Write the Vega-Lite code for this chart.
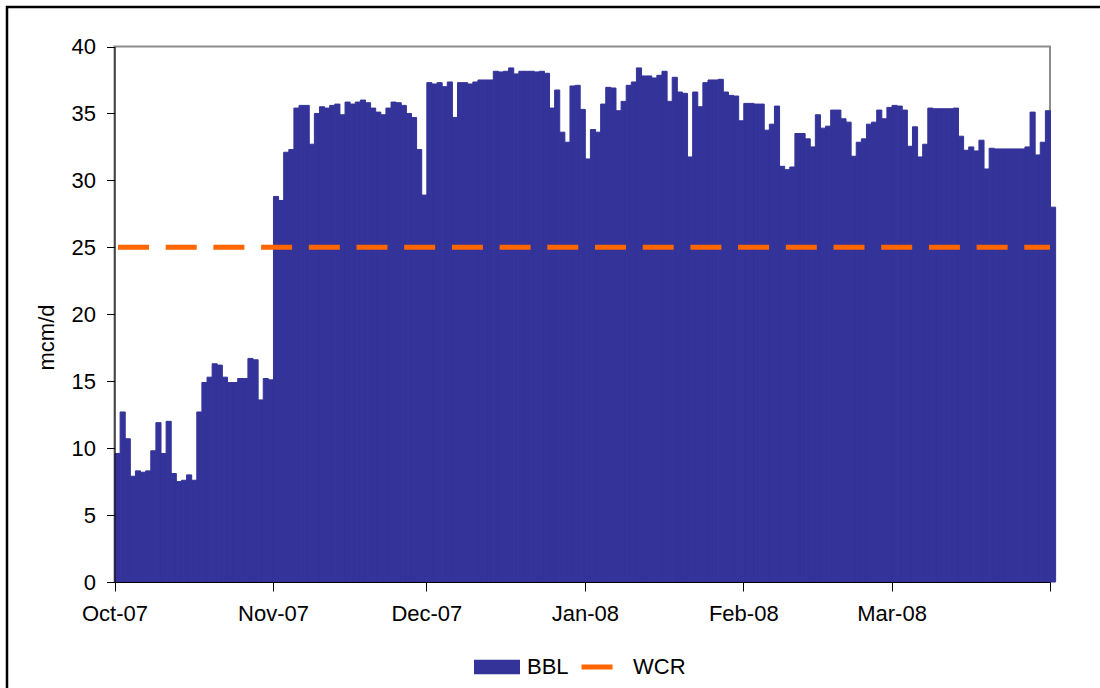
{
  "$schema": "https://vega.github.io/schema/vega-lite/v6.json",
  "width": 1098,
  "height": 686,
  "autosize": {"type": "none"},
  "padding": {"left": 7, "top": 7, "right": -5, "bottom": -5},
  "background": "white",
  "config": {"view": {"stroke": "#000000", "strokeWidth": 2.5}, "font": "Liberation Sans"},
  "data": {"values": [
    {"d":"2007-10-01","v":9.6},{"d":"2007-10-02","v":12.7},{"d":"2007-10-03","v":10.7},{"d":"2007-10-04","v":7.9},{"d":"2007-10-05","v":8.3},{"d":"2007-10-06","v":8.2},{"d":"2007-10-07","v":8.3},{"d":"2007-10-08","v":9.8},{"d":"2007-10-09","v":11.9},{"d":"2007-10-10","v":9.6},
    {"d":"2007-10-11","v":12.0},{"d":"2007-10-12","v":8.1},{"d":"2007-10-13","v":7.5},{"d":"2007-10-14","v":7.6},{"d":"2007-10-15","v":8.0},{"d":"2007-10-16","v":7.6},{"d":"2007-10-17","v":12.7},{"d":"2007-10-18","v":14.9},{"d":"2007-10-19","v":15.3},{"d":"2007-10-20","v":16.3},
    {"d":"2007-10-21","v":16.2},{"d":"2007-10-22","v":15.3},{"d":"2007-10-23","v":14.9},{"d":"2007-10-24","v":14.9},{"d":"2007-10-25","v":15.2},{"d":"2007-10-26","v":15.2},{"d":"2007-10-27","v":16.7},{"d":"2007-10-28","v":16.6},{"d":"2007-10-29","v":13.6},{"d":"2007-10-30","v":15.2},{"d":"2007-10-31","v":15.1},
    {"d":"2007-11-01","v":28.8},{"d":"2007-11-02","v":28.5},{"d":"2007-11-03","v":32.1},{"d":"2007-11-04","v":32.3},{"d":"2007-11-05","v":35.4},{"d":"2007-11-06","v":35.6},{"d":"2007-11-07","v":35.6},{"d":"2007-11-08","v":32.7},{"d":"2007-11-09","v":35.0},{"d":"2007-11-10","v":35.5},
    {"d":"2007-11-11","v":35.4},{"d":"2007-11-12","v":35.6},{"d":"2007-11-13","v":35.7},{"d":"2007-11-14","v":34.9},{"d":"2007-11-15","v":35.85},{"d":"2007-11-16","v":35.7},{"d":"2007-11-17","v":35.85},{"d":"2007-11-18","v":36.0},{"d":"2007-11-19","v":35.8},{"d":"2007-11-20","v":35.4},
    {"d":"2007-11-21","v":35.1},{"d":"2007-11-22","v":34.9},{"d":"2007-11-23","v":35.4},{"d":"2007-11-24","v":35.85},{"d":"2007-11-25","v":35.8},{"d":"2007-11-26","v":35.6},{"d":"2007-11-27","v":35.0},{"d":"2007-11-28","v":34.7},{"d":"2007-11-29","v":32.3},{"d":"2007-11-30","v":28.9},
    {"d":"2007-12-01","v":37.3},{"d":"2007-12-02","v":37.2},{"d":"2007-12-03","v":37.3},{"d":"2007-12-04","v":37.0},{"d":"2007-12-05","v":37.35},{"d":"2007-12-06","v":34.7},{"d":"2007-12-07","v":37.3},{"d":"2007-12-08","v":37.3},{"d":"2007-12-09","v":37.2},{"d":"2007-12-10","v":37.35},
    {"d":"2007-12-11","v":37.5},{"d":"2007-12-12","v":37.5},{"d":"2007-12-13","v":37.5},{"d":"2007-12-14","v":38.15},{"d":"2007-12-15","v":38.1},{"d":"2007-12-16","v":38.15},{"d":"2007-12-17","v":38.4},{"d":"2007-12-18","v":37.95},{"d":"2007-12-19","v":38.15},{"d":"2007-12-20","v":38.15},
    {"d":"2007-12-21","v":38.15},{"d":"2007-12-22","v":38.1},{"d":"2007-12-23","v":38.15},{"d":"2007-12-24","v":38.0},{"d":"2007-12-25","v":35.4},{"d":"2007-12-26","v":36.75},{"d":"2007-12-27","v":33.6},{"d":"2007-12-28","v":32.85},{"d":"2007-12-29","v":37.05},{"d":"2007-12-30","v":37.1},{"d":"2007-12-31","v":35.3},
    {"d":"2008-01-01","v":31.6},{"d":"2008-01-02","v":33.8},{"d":"2008-01-03","v":33.6},{"d":"2008-01-04","v":35.7},{"d":"2008-01-05","v":36.95},{"d":"2008-01-06","v":36.9},{"d":"2008-01-07","v":35.2},{"d":"2008-01-08","v":35.9},{"d":"2008-01-09","v":37.1},{"d":"2008-01-10","v":37.35},
    {"d":"2008-01-11","v":38.4},{"d":"2008-01-12","v":37.8},{"d":"2008-01-13","v":37.8},{"d":"2008-01-14","v":37.65},{"d":"2008-01-15","v":37.85},{"d":"2008-01-16","v":38.15},{"d":"2008-01-17","v":35.9},{"d":"2008-01-18","v":37.7},{"d":"2008-01-19","v":36.6},{"d":"2008-01-20","v":36.5},
    {"d":"2008-01-21","v":31.75},{"d":"2008-01-22","v":36.6},{"d":"2008-01-23","v":35.5},{"d":"2008-01-24","v":37.3},{"d":"2008-01-25","v":37.5},{"d":"2008-01-26","v":37.5},{"d":"2008-01-27","v":37.55},{"d":"2008-01-28","v":36.6},{"d":"2008-01-29","v":36.35},{"d":"2008-01-30","v":36.3},{"d":"2008-01-31","v":34.45},
    {"d":"2008-02-01","v":35.75},{"d":"2008-02-02","v":35.75},{"d":"2008-02-03","v":35.7},{"d":"2008-02-04","v":35.7},{"d":"2008-02-05","v":33.75},{"d":"2008-02-06","v":34.2},{"d":"2008-02-07","v":35.55},{"d":"2008-02-08","v":31.05},{"d":"2008-02-09","v":30.8},{"d":"2008-02-10","v":31.0},
    {"d":"2008-02-11","v":33.5},{"d":"2008-02-12","v":33.5},{"d":"2008-02-13","v":33.1},{"d":"2008-02-14","v":32.5},{"d":"2008-02-15","v":34.9},{"d":"2008-02-16","v":33.9},{"d":"2008-02-17","v":34.05},{"d":"2008-02-18","v":35.25},{"d":"2008-02-19","v":35.25},{"d":"2008-02-20","v":34.6},
    {"d":"2008-02-21","v":34.35},{"d":"2008-02-22","v":31.8},{"d":"2008-02-23","v":32.85},{"d":"2008-02-24","v":33.1},{"d":"2008-02-25","v":34.2},{"d":"2008-02-26","v":34.35},{"d":"2008-02-27","v":35.25},{"d":"2008-02-28","v":34.6},{"d":"2008-02-29","v":35.45},
    {"d":"2008-03-01","v":35.6},{"d":"2008-03-02","v":35.55},{"d":"2008-03-03","v":35.25},{"d":"2008-03-04","v":32.55},{"d":"2008-03-05","v":34.0},{"d":"2008-03-06","v":31.75},{"d":"2008-03-07","v":32.7},{"d":"2008-03-08","v":35.4},{"d":"2008-03-09","v":35.35},{"d":"2008-03-10","v":35.35},
    {"d":"2008-03-11","v":35.35},{"d":"2008-03-12","v":35.35},{"d":"2008-03-13","v":35.4},{"d":"2008-03-14","v":33.3},{"d":"2008-03-15","v":32.25},{"d":"2008-03-16","v":32.5},{"d":"2008-03-17","v":32.2},{"d":"2008-03-18","v":33.0},{"d":"2008-03-19","v":30.85},{"d":"2008-03-20","v":32.4},
    {"d":"2008-03-21","v":32.35},{"d":"2008-03-22","v":32.35},{"d":"2008-03-23","v":32.35},{"d":"2008-03-24","v":32.35},{"d":"2008-03-25","v":32.35},{"d":"2008-03-26","v":32.35},{"d":"2008-03-27","v":32.5},{"d":"2008-03-28","v":35.1},{"d":"2008-03-29","v":31.9},{"d":"2008-03-30","v":32.85},{"d":"2008-03-31","v":35.2},
    {"d":"2008-04-01","v":28.0}
  ]},
  "layer": [
    {
      "data": {"values": [{}]},
      "mark": {"type": "rect", "fill": "transparent", "stroke": "#8c8c8c", "strokeWidth": 2},
      "encoding": {
        "x": {"datum": {"year": 2007, "month": 10, "date": 1, "utc": true}, "type": "temporal"},
        "x2": {"datum": {"year": 2008, "month": 4, "date": 1, "utc": true}},
        "y": {"datum": 0, "type": "quantitative"},
        "y2": {"datum": 40}
      }
    },
    {
      "mark": {"type": "bar", "clip": false, "binSpacing": 0, "stroke": "#333399", "strokeWidth": 1},
      "encoding": {
        "x": {
          "field": "d", "timeUnit": "utcyearmonthdate", "type": "temporal",
          "scale": {"type": "utc", "domain": [{"year": 2007, "month": 10, "date": 1, "utc": true}, {"year": 2008, "month": 4, "date": 1, "utc": true}], "range": [107.5, 1043]},
          "axis": {
            "orient": "bottom", "offset": -111, "title": null, "grid": false, "zindex": 1,
            "values": [
              {"year": 2007, "month": 10, "date": 1, "utc": true},
              {"year": 2007, "month": 11, "date": 1, "utc": true},
              {"year": 2007, "month": 12, "date": 1, "utc": true},
              {"year": 2008, "month": 1, "date": 1, "utc": true},
              {"year": 2008, "month": 2, "date": 1, "utc": true},
              {"year": 2008, "month": 3, "date": 1, "utc": true},
              {"year": 2008, "month": 4, "date": 1, "utc": true}
            ],
            "labelExpr": "utcmonth(datum.value) === 3 ? '' : utcFormat(datum.value, '%b-%y')",
            "labelFont": "Liberation Sans", "labelFontSize": 22, "labelColor": "#000000",
            "labelPadding": 12, "labelOverlap": false, "labelFlush": false, "labelBound": false,
            "tickSize": 9, "tickColor": "#000000", "tickWidth": 1,
            "domainColor": "#000000", "domainWidth": 1
          }
        },
        "y": {
          "field": "v", "type": "quantitative",
          "scale": {"domain": [0, 40], "nice": false, "zero": true, "range": [575, 39.5]},
          "axis": {
            "orient": "left", "offset": -107.5, "grid": false, "zindex": 1,
            "values": [0, 5, 10, 15, 20, 25, 30, 35, 40],
            "labelFont": "Liberation Sans", "labelFontSize": 22, "labelColor": "#000000",
            "labelPadding": 11, "labelOverlap": false,
            "tickSize": 8, "tickColor": "#000000", "tickWidth": 1,
            "domainColor": "#000000", "domainWidth": 1,
            "title": "mcm/d", "titleFont": "Liberation Sans", "titleFontSize": 22, "titleFontWeight": "normal", "titleColor": "#000000",
            "titleAngle": 270, "titleAlign": "center", "titleBaseline": "alphabetic", "titleX": -61.5, "titleY": 330
          }
        },
        "fill": {
          "datum": "BBL",
          "scale": {"domain": ["BBL"], "range": ["#333399"]},
          "legend": {
            "orient": "none", "legendX": 467, "legendY": 637, "direction": "horizontal", "title": null, "padding": 0,
            "labelFont": "Liberation Sans", "labelFontSize": 22, "labelColor": "#000000", "labelOffset": 7,
            "symbolSize": 2116, "symbolType": "M-1,-0.32H1V0.32H-1Z", "symbolStrokeWidth": 0, "symbolOpacity": 1
          }
        }
      }
    },
    {
      "data": {"values": [{}]},
      "mark": {"type": "rule", "strokeWidth": 5, "strokeDash": [31, 16.7], "strokeDashOffset": 44.2},
      "encoding": {
        "x": {"datum": {"year": 2007, "month": 10, "date": 1, "utc": true}, "type": "temporal"},
        "x2": {"datum": {"year": 2008, "month": 4, "date": 1, "utc": true}},
        "y": {"datum": 25, "type": "quantitative"},
        "stroke": {
          "datum": "WCR",
          "scale": {"domain": ["WCR"], "range": ["#FF6600"]},
          "legend": {
            "orient": "none", "legendX": 572, "legendY": 634.5, "direction": "horizontal", "title": null, "padding": 0,
            "labelFont": "Liberation Sans", "labelFontSize": 22, "labelColor": "#000000", "labelOffset": 3,
            "symbolSize": 2116, "symbolType": "M-1,0H0.35", "symbolStrokeWidth": 5, "symbolFillColor": "transparent", "symbolOpacity": 1,
            "symbolDash": [60, 1], "symbolDashOffset": 0
          }
        }
      }
    }
  ]
}
